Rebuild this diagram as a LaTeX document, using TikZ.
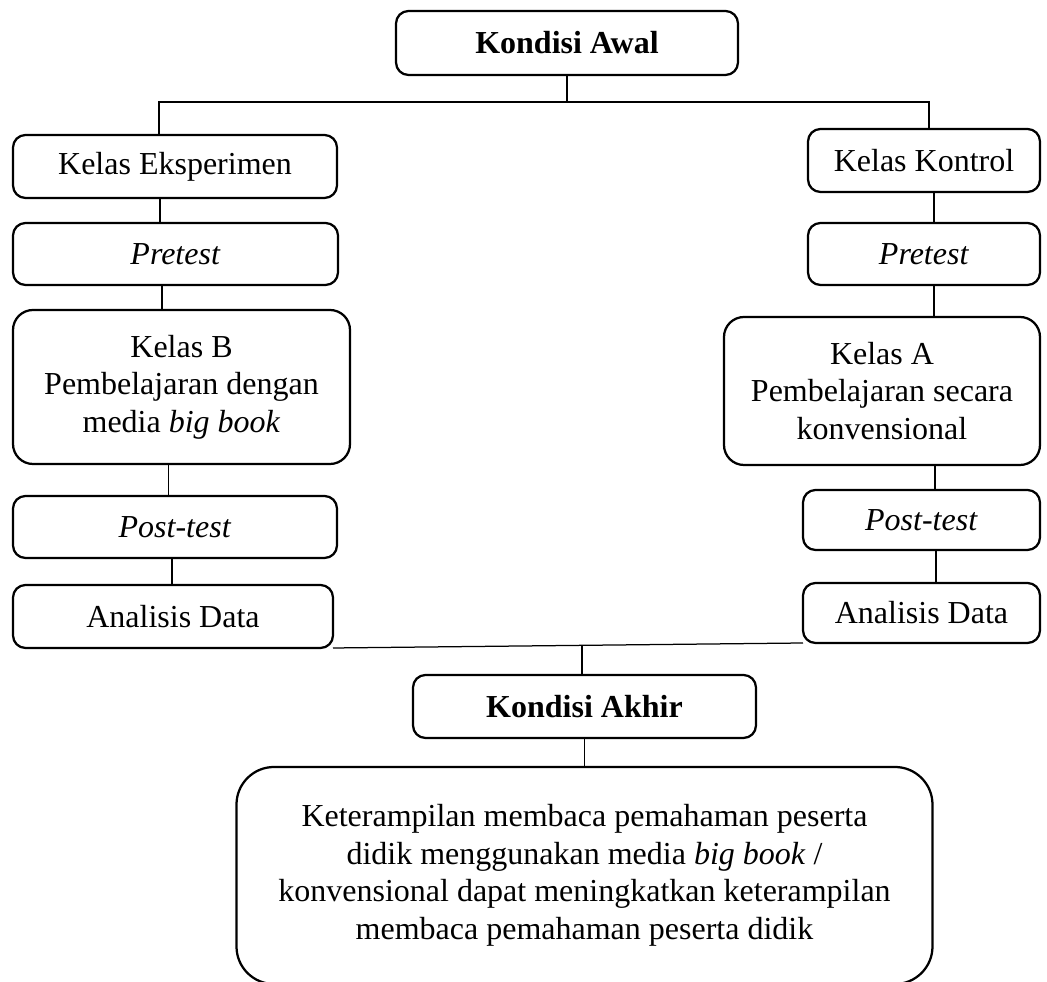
\documentclass[tikz,border=0pt]{standalone}
\usepackage{fontspec}
\setmainfont{Liberation Serif}
\usepackage{tikz}
\usetikzlibrary{positioning}

\begin{document}
\begin{tikzpicture}[
    stage/.style={rectangle, rounded corners=5pt, draw=black, line width=0.9pt,
                  align=center, inner sep=0pt, outer sep=0pt,
                  font=\fontsize{12.8}{15}\selectfont},
    bigstage/.style={stage, rounded corners=8pt},
    title/.style={stage, font=\fontsize{12.8}{15}\selectfont\bfseries},
    link/.style={line width=0.5pt, black}
  ]
  \useasboundingbox (0pt,0pt) rectangle (418.8pt,-392.8pt);

  % Top
  \node[title, minimum width=136.8pt, minimum height=25.6pt] (awal) at (226.8pt,-17.2pt) {Kondisi Awal};
  \coordinate (splitA) at (226.4pt,-40.8pt);

  % Left: experiment class
  \node[stage, minimum width=129.6pt, minimum height=25.2pt, anchor=north west] (eksp) at (5.2pt,-54pt) {Kelas Eksperimen};
  \node[stage, minimum width=130pt, minimum height=24.8pt] (preL) [below=10pt of eksp.south west, anchor=north west] {\textit{Pretest}};
  \node[bigstage, minimum width=134.8pt, minimum height=61.6pt] (kelB) [below=10pt of preL.south west, anchor=north west] {Kelas B\\Pembelajaran dengan\\media \textit{big book}};
  \node[stage, minimum width=129.6pt, minimum height=24.8pt] (postL) [below=12.8pt of kelB.south west, anchor=north west] {\textit{Post-test}};
  \node[stage, minimum width=128pt, minimum height=25.2pt] (anaL) [below=10.8pt of postL.south west, anchor=north west] {Analisis Data};

  % Right: control class
  \node[stage, minimum width=92.8pt, minimum height=25.2pt, anchor=north east] (kont) at (416pt,-51.6pt) {Kelas Kontrol};
  \node[stage, minimum width=92.8pt, minimum height=24.8pt] (preR) [below=12.4pt of kont.south east, anchor=north east] {\textit{Pretest}};
  \node[bigstage, minimum width=126.4pt, minimum height=59.2pt] (kelA) [below=12.8pt of preR.south east, anchor=north east] {Kelas A\\Pembelajaran secara\\konvensional};
  \node[stage, minimum width=94.8pt, minimum height=24pt] (postR) [below=10pt of kelA.south east, anchor=north east] {\textit{Post-test}};
  \node[stage, minimum width=94.8pt, minimum height=24pt] (anaR) [below=13.2pt of postR.south east, anchor=north east] {Analisis Data};

  % Bottom
  \node[title, minimum width=137.2pt, minimum height=25.2pt] (akhir) at (233.8pt,-282.6pt) {Kondisi Akhir};
  \node[stage, rounded corners=15pt, minimum width=278.4pt, minimum height=86.8pt] (hasil) [below=11.6pt of akhir] {Keterampilan membaca pemahaman peserta\\didik menggunakan media \textit{big book} /\\konvensional dapat meningkatkan keterampilan\\membaca pemahaman peserta didik};

  % Connections
  \draw[link] (awal.south) -- (awal.south |- splitA);
  \draw[link] ([xshift=-6.4pt]eksp.north) |- (splitA) -| ([xshift=2pt]kont.north);

  \draw[link] ([xshift=-6pt]eksp.south) -- ([xshift=-6pt]eksp.south |- preL.north);
  \draw[link] ([xshift=-5.4pt]preL.south) -- ([xshift=-5.4pt]preL.south |- kelB.north);
  \draw[link] ([xshift=-2.6pt]postL.north) -- ([xshift=-2.6pt]postL.north |- kelB.south);
  \draw[link] ([xshift=-1.2pt]postL.south) -- ([xshift=-1.2pt]postL.south |- anaL.north);

  \draw[link] ([xshift=4pt]kont.south) -- ([xshift=4pt]kont.south |- preR.north);
  \draw[link] ([xshift=4pt]preR.south) -- ([xshift=4pt]preR.south |- kelA.north);
  \draw[link] ([xshift=5.4pt]postR.north) -- ([xshift=5.4pt]postR.north |- kelA.south);
  \draw[link] ([xshift=5.8pt]postR.south) -- ([xshift=5.8pt]postR.south |- anaR.north);

  \draw[link] (anaL.south east) -- coordinate[pos=0.53] (joinB) (anaR.south west);
  \draw[link] (joinB) -- (joinB |- akhir.north);
  \draw[link] (akhir.south) -- (hasil.north);
\end{tikzpicture}
\end{document}
